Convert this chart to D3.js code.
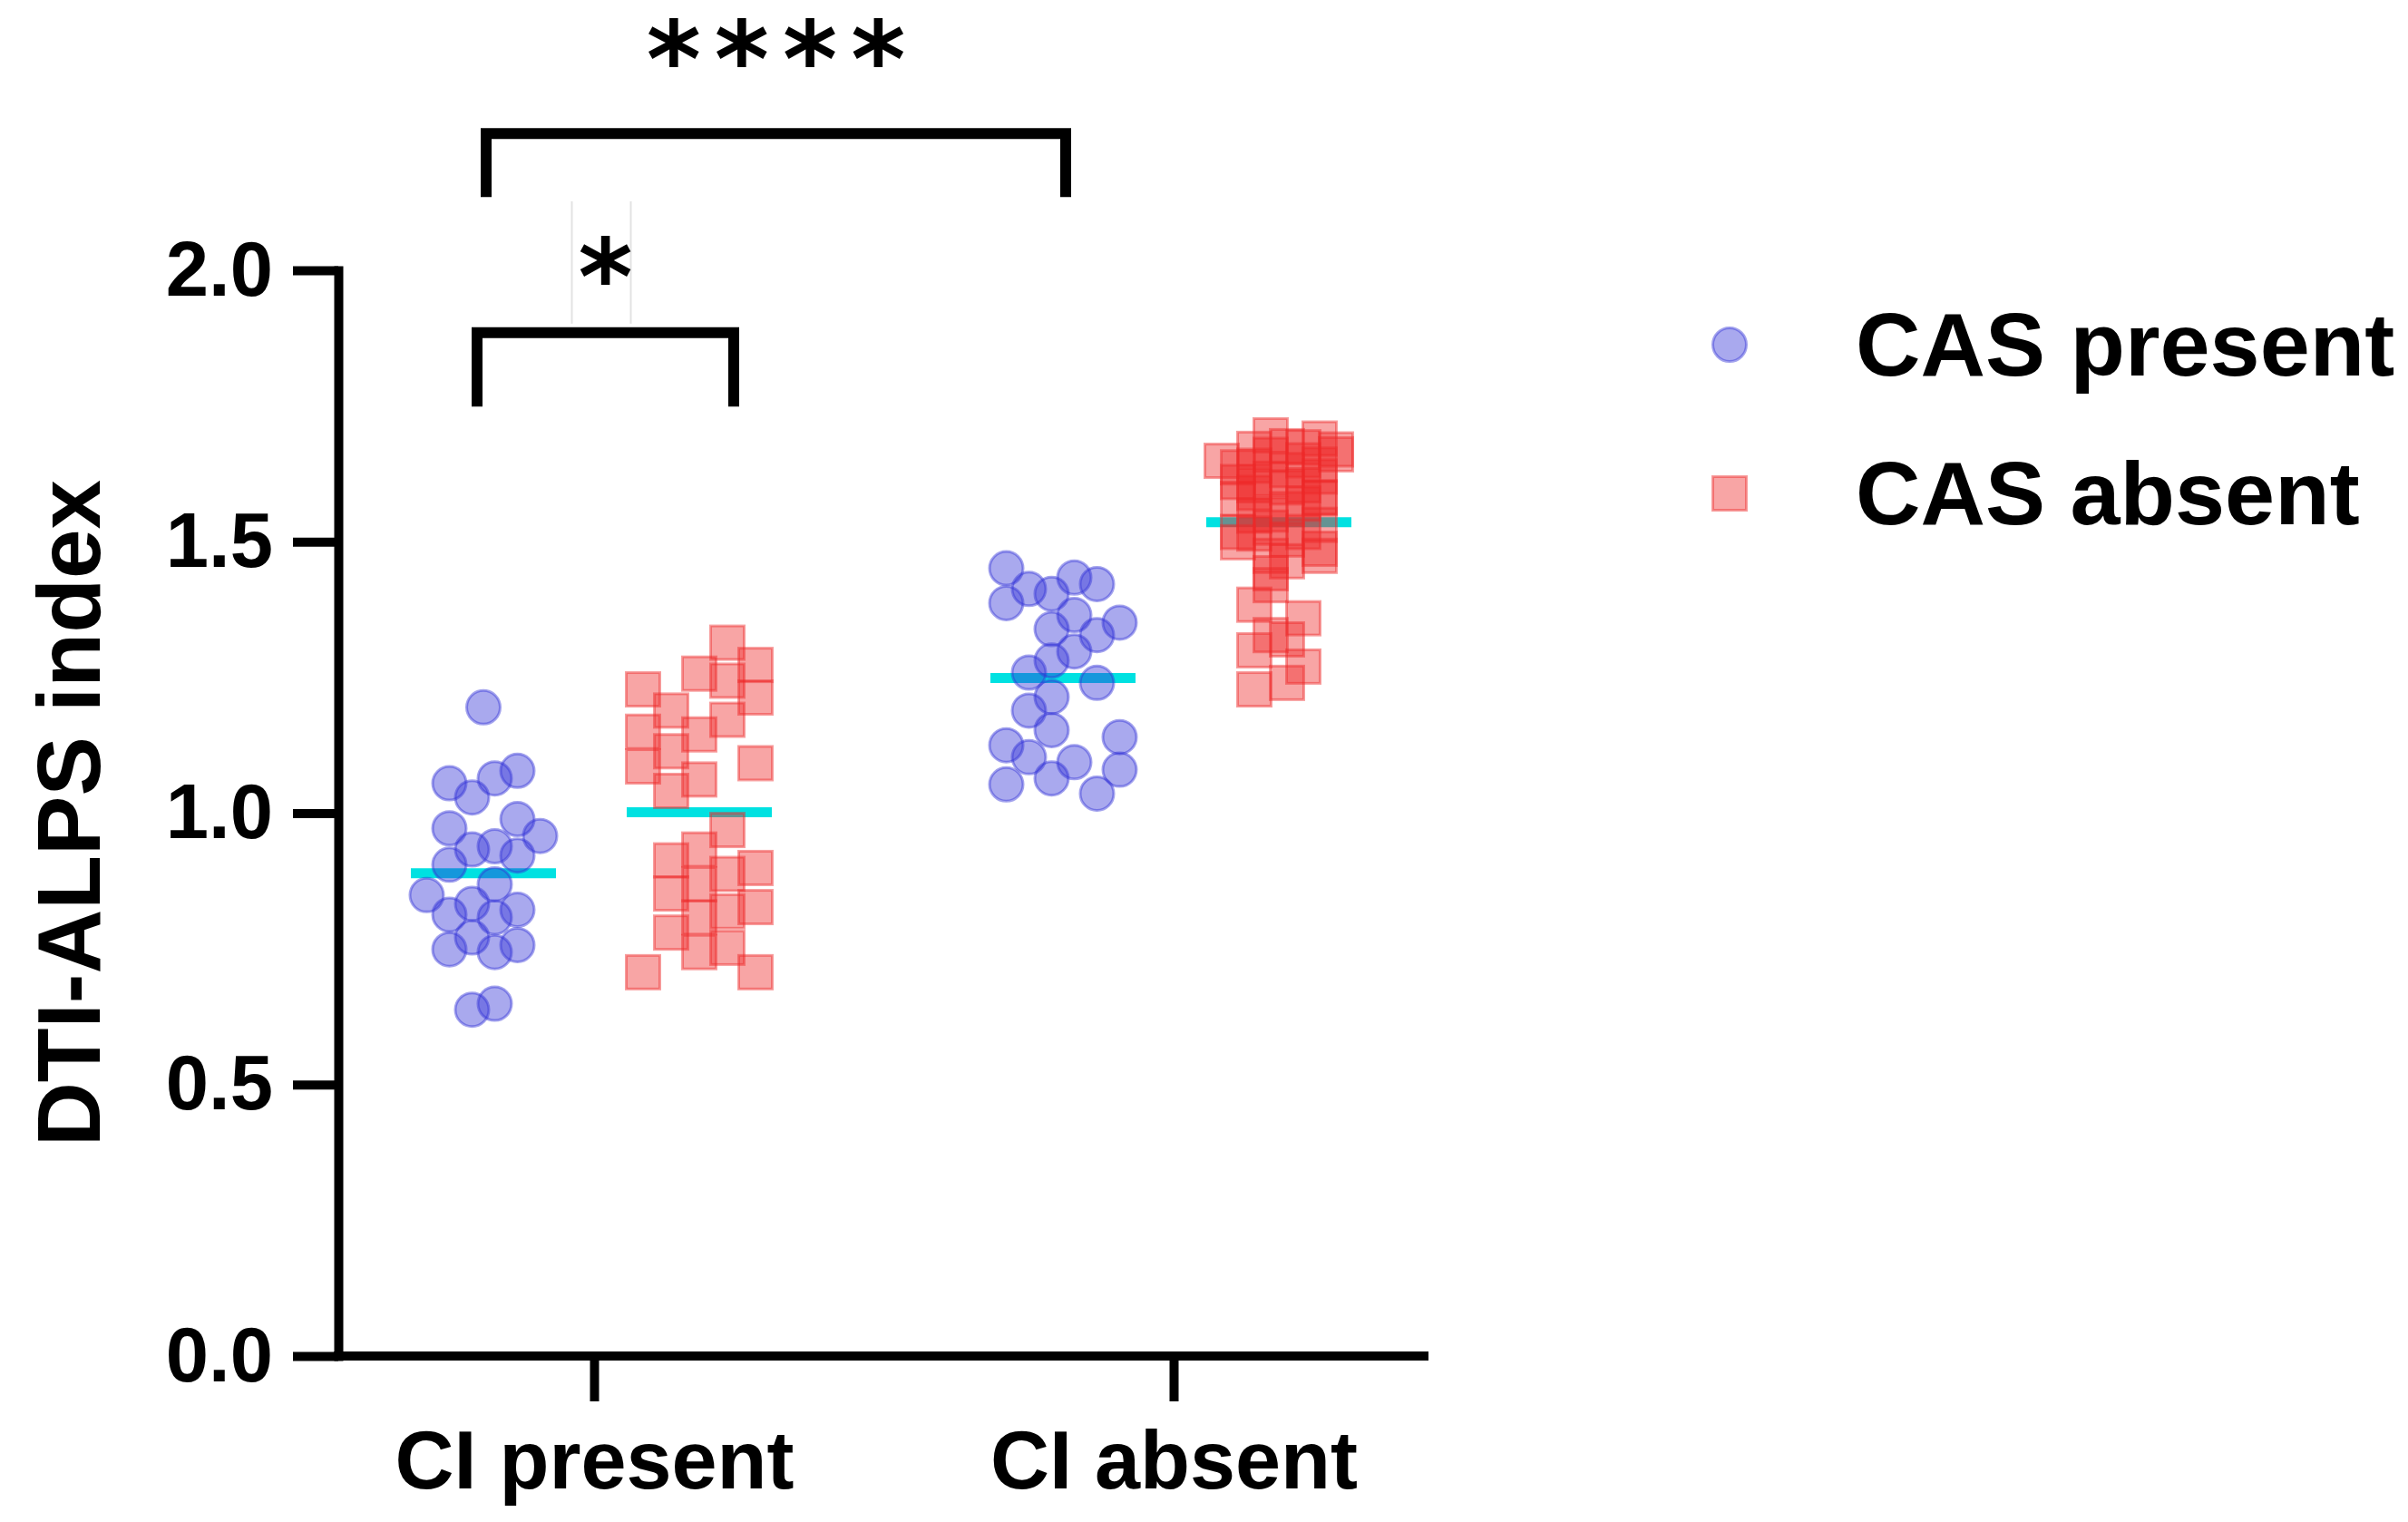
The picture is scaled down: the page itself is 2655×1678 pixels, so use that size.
<!DOCTYPE html>
<html>
<head>
<meta charset="utf-8">
<script src="https://cdn.jsdelivr.net/npm/d3@7"></script>
<style>
  body { margin: 0; background: #fff; }
  text { font-family: "Liberation Sans", Arial, sans-serif; }
</style>
</head>
<body>
<svg id="chart" width="2655" height="1678"></svg>
<script>
var categories = ["CI present", "CI absent"];
var seriesNames = ["CAS present", "CAS absent"];
var yTicks = [0, 0.5, 1.0, 1.5, 2.0];

// each point: [DTI-ALPS index, column slot in the scatter]
var ciPresentCasPresent = [
  [1.195, 0], [1.055, -1.5], [1.029, -0.5], [1.064, 0.5], [1.078, 1.5],
  [0.972, -1.5], [0.989, 1.5], [0.958, 2.5], [0.933, -0.5], [0.939, 0.5],
  [0.905, -1.5], [0.922, 1.5], [0.849, -2.5], [0.869, 0.5], [0.833, -0.5],
  [0.813, -1.5], [0.808, 0.5], [0.822, 1.5], [0.771, -0.5], [0.749, -1.5],
  [0.744, 0.5], [0.757, 1.5], [0.638, -0.5], [0.649, 0.5]
];
var ciPresentCasAbsent = [
  [1.228, -2], [1.150, -2], [1.086, -2], [0.707, -2],
  [1.189, -1], [1.114, -1], [1.041, -1], [0.913, -1], [0.852, -1], [0.780, -1],
  [1.257, 0], [1.145, 0], [1.062, 0], [0.933, 0], [0.869, 0], [0.808, 0], [0.744, 0],
  [1.314, 1], [1.244, 1], [1.172, 1], [0.969, 1], [0.888, 1], [0.819, 1], [0.752, 1],
  [1.273, 2], [1.213, 2], [1.092, 2], [0.899, 2], [0.827, 2], [0.707, 2]
];
var ciAbsentCasPresent = [
  [1.451, -2.5], [1.387, -2.5], [1.413, -1.5], [1.404, -0.5], [1.434, 0.5],
  [1.422, 1.5], [1.365, 0.5], [1.339, -0.5], [1.328, 1.5], [1.351, 2.5],
  [1.298, 0.5], [1.281, -0.5], [1.259, -1.5], [1.240, 1.5], [1.214, -0.5],
  [1.189, -1.5], [1.153, -0.5], [1.125, -2.5], [1.103, -1.5], [1.094, 0.5],
  [1.140, 2.5], [1.080, 2.5], [1.053, -2.5], [1.064, -0.5], [1.036, 1.5]
];
var ciAbsentCasAbsent = [
  [1.696, -0.5], [1.690, 2.5], [1.649, -3.5], [1.661, 3.5], [1.671, -1.5],
  [1.676, 0.5], [1.637, -2.5], [1.674, 1.5], [1.642, 2.5], [1.604, -1.5],
  [1.632, 0.5], [1.616, -0.5], [1.579, -2.5], [1.604, 1.5], [1.582, 2.5],
  [1.560, 0.5], [1.548, -1.5], [1.526, -0.5], [1.518, -2.5], [1.531, 2.5],
  [1.518, 1.5], [1.499, -2.5], [1.504, 0.5], [1.515, -1.5], [1.487, 2.5],
  [1.660, -0.5], [1.650, 1.5], [1.620, 2.5], [1.590, -1.5], [1.570, 1.5],
  [1.550, -0.5], [1.640, -1.5], [1.600, 0.5], [1.670, 3.5], [1.610, -2.5],
  [1.580, 2.5],
  [1.474, -0.5], [1.442, -0.5], [1.464, 0.5], [1.474, 2.5], [1.384, -1.5],
  [1.420, -0.5], [1.359, 1.5], [1.300, -1.5], [1.328, -0.5], [1.320, 0.5],
  [1.270, 1.5], [1.228, -1.5], [1.240, 0.5]
];

var comparisons = [
  { from: ["CI present", "CAS present"], to: ["CI absent", "CAS present"], label: "****", top: 2.252, foot: 2.135, labelAt: 2.405 },
  { from: ["CI present", "CAS present"], to: ["CI present", "CAS absent"], label: "*", top: 1.885, foot: 1.749, labelAt: 2.005 }
];

var svg = d3.select("#chart"),
    width = +svg.attr("width"),
    height = +svg.attr("height");

svg.append("rect").attr("width", width).attr("height", height).attr("fill", "#fff");

var axisLeftX = 373, axisRightX = 1575;

var y = d3.scaleLinear().domain([0, 2]).range([1495, 298]);
var x = d3.scalePoint().domain(categories).range([655, 1294]);
var sub = d3.scaleOrdinal().domain(seriesNames).range([-122, 116]);

var fills = { "CAS present": "rgb(50,50,215)", "CAS absent": "rgb(238,40,40)" };

var groups = [
  { cat: "CI present", ser: "CAS present", pts: ciPresentCasPresent, step: 25 },
  { cat: "CI present", ser: "CAS absent", pts: ciPresentCasAbsent, step: 31 },
  { cat: "CI absent", ser: "CAS present", pts: ciAbsentCasPresent, step: 25 },
  { cat: "CI absent", ser: "CAS absent", pts: ciAbsentCasAbsent, step: 18 }
];

// small bracket legs sit a little wider than the group centres
var legNudge = { "****": [3, 3], "*": [-7, 38] };

function center(cat, ser) { return x(cat) + sub(ser); }

// mean lines (drawn under the points)
svg.append("g")
    .selectAll("line")
    .data(groups)
    .enter().append("line")
    .attr("x1", function (g) { return center(g.cat, g.ser) - 80; })
    .attr("x2", function (g) { return center(g.cat, g.ser) + 80; })
    .attr("y1", function (g) { return y(d3.mean(g.pts, function (d) { return d[0]; })); })
    .attr("y2", function (g) { return y(d3.mean(g.pts, function (d) { return d[0]; })); })
    .attr("stroke", "#00e1e1")
    .attr("stroke-width", 11);

function drawMarker(sel, ser) {
  if (ser == "CAS present") {
    sel.append("circle").attr("r", 18.5);
  } else {
    sel.append("rect").attr("x", -18.5).attr("y", -18.5).attr("width", 37).attr("height", 37);
  }
  sel.select(":last-child")
      .attr("fill", fills[ser])
      .attr("fill-opacity", 0.42)
      .attr("stroke", fills[ser])
      .attr("stroke-opacity", 0.45)
      .attr("stroke-width", 3);
}

groups.forEach(function (g) {
  var cx = center(g.cat, g.ser);
  svg.append("g")
      .selectAll("g")
      .data(g.pts)
      .enter().append("g")
      .attr("transform", function (d) { return "translate(" + (cx + d[1] * g.step) + "," + y(d[0]) + ")"; })
      .each(function () { drawMarker(d3.select(this), g.ser); });
});

// y axis
var yAxis = svg.append("g")
    .attr("transform", "translate(" + axisLeftX + ",0)")
    .call(d3.axisLeft(y).tickValues(yTicks).tickFormat(d3.format(".1f"))
        .tickSize(50).tickSizeOuter(0).tickPadding(22));
yAxis.selectAll("path, line").attr("stroke", "#000").attr("stroke-width", 10);
yAxis.select(".domain").attr("stroke-linecap", "square");
yAxis.selectAll("text")
    .attr("fill", "#000")
    .style("font-size", "85px")
    .style("font-weight", "bold");

// x axis
var xAxis = svg.append("g")
    .attr("transform", "translate(0," + y(0) + ")")
    .call(d3.axisBottom(x).tickSize(50).tickSizeOuter(0));
xAxis.select(".domain").remove();
xAxis.append("line")
    .attr("x1", axisLeftX - 5).attr("x2", axisRightX)
    .attr("stroke", "#000").attr("stroke-width", 10);
xAxis.selectAll(".tick line").attr("stroke", "#000").attr("stroke-width", 10);
xAxis.selectAll(".tick text")
    .attr("y", 82)
    .attr("dy", "0.71em")
    .attr("fill", "#000")
    .style("font-size", "90px")
    .style("font-weight", "bold");

// y axis title
svg.append("text")
    .attr("transform", "translate(110," + (y(0) + y(2)) / 2 + ") rotate(-90)")
    .attr("text-anchor", "middle")
    .style("font-size", "98px")
    .style("font-weight", "bold")
    .text("DTI-ALPS index");

// significance brackets
comparisons.forEach(function (c) {
  var nudge = legNudge[c.label] || [0, 0];
  var xa = center(c.from[0], c.from[1]) + nudge[0],
      xb = center(c.to[0], c.to[1]) + nudge[1];
  svg.append("path")
      .attr("d", "M" + xa + "," + y(c.foot) + "V" + y(c.top) + "H" + xb + "V" + y(c.foot))
      .attr("fill", "none")
      .attr("stroke", "#000")
      .attr("stroke-width", 12);

  var mid = (xa + xb) / 2;
  if (c.label == "*") {
    // faint box left around the single star in the original
    [-37, 28].forEach(function (dx) {
      svg.append("line")
          .attr("x1", mid + dx).attr("x2", mid + dx)
          .attr("y1", y(c.labelAt) - 73).attr("y2", y(c.top) - 10)
          .attr("stroke", "#e2e2e2").attr("stroke-width", 2);
    });
  }
  var t = svg.append("text")
      .attr("x", mid)
      .attr("y", y(c.labelAt))
      .attr("text-anchor", "middle")
      .style("font-family", "'DejaVu Sans', sans-serif")
      .style("font-size", "115px")
      .style("font-weight", "bold")
      .style("letter-spacing", c.label.length > 1 ? "15px" : "0px")
      .text(c.label);
  var bb = t.node().getBBox();
  var shift = c.label.length > 1 ? 7.5 : 0;
  t.attr("y", y(c.labelAt) + (y(c.labelAt) - (bb.y + bb.height * 0.42)))
   .attr("x", mid + shift);
});

// legend
var legend = svg.append("g")
    .selectAll("g")
    .data(seriesNames)
    .enter().append("g")
    .attr("transform", function (d, i) { return "translate(1907," + (380 + i * 164) + ")"; });
legend.each(function (d) { drawMarker(d3.select(this), d); });
legend.append("text")
    .attr("x", 139)
    .attr("y", 34)
    .style("font-size", "99px")
    .style("font-weight", "bold")
    .text(function (d) { return d; });
</script>
</body>
</html>
